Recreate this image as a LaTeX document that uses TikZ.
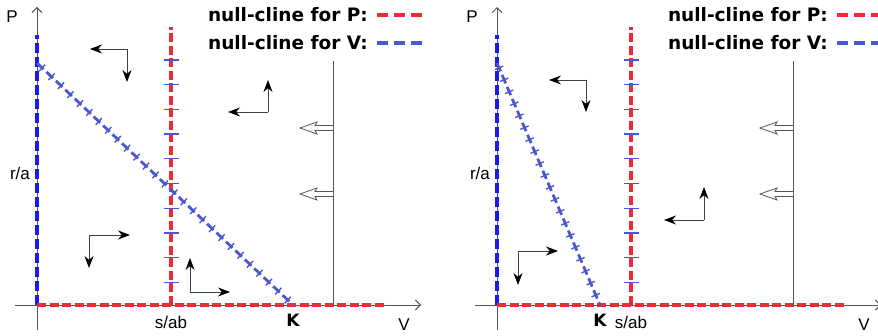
\documentclass[tikz,border=0pt]{standalone}
\usepackage{fontspec}
\setmainfont{Liberation Sans}
\newfontfamily\legendfont{DejaVu Sans}
\usetikzlibrary{arrows.meta, decorations.markings, positioning}

\definecolor{ncred}{HTML}{EE2A35}
\definecolor{ncblue}{HTML}{1A1AF0}
\definecolor{diagblue}{HTML}{4A58D0}
\definecolor{axisgray}{HTML}{555555}

\tikzset{
  axis/.style={axisgray, line width=0.9pt, -{Straight Barb[length=5pt,width=10pt]}},
  pcline/.style={ncred, line width=3.6pt, dash pattern=on 9pt off 3.5pt},
  vcline/.style={ncblue, line width=3.2pt, dash pattern=on 10pt off 4pt},
  vdiag/.style={diagblue, line width=2.8pt, dash pattern=on 9pt off 4pt,
    postaction={decorate, decoration={markings,
      mark=between positions 0.02 and 1 step 13pt with
        {\draw[diagblue, solid, line width=1.4pt] (0pt,-4.5pt) -- (0pt,4.5pt);}}}},
  ptick/.style={diagblue, line width=1.3pt},
  dirarrow/.style={black!75, line width=0.9pt, -{Stealth[length=12pt,width=9pt,black]}},
  openarrow/.style={axisgray, line width=0.8pt, fill=white},
  lbl/.style={font=\fontsize{17}{20}\selectfont},
  klbl/.style={font=\legendfont\bfseries\fontsize{17}{20}\selectfont},
  legend/.style={font=\legendfont\bfseries\fontsize{18.5}{22}\selectfont, anchor=east, inner sep=0pt}
}

\begin{document}
\begin{tikzpicture}[x=1pt, y=-1pt]
\useasboundingbox (0,0) rectangle (878,336);

\foreach \dx/\kx/\n in {0/256/L, 460/103/R} {
  \begin{scope}[xshift=\dx pt]
    % axes
    \coordinate (o\n) at (37,305);
    \coordinate (ytop\n) at (37,7);
    \coordinate (xend\n) at (421,305);
    \draw[axis] (37,330) -- (ytop\n);
    \draw[axis] (15,305) -- (xend\n);
    \node[lbl] (P\n) at (12,17) {P};
    \node[lbl] (ra\n) at (20,173) {r/a};
    \node[lbl] (sab\n) at (171,322) {s/ab};
    \node[lbl] (V\n) at (404,325) {V};
    \node[klbl] (K\n) at ({37+\kx},320) {K};

    % null-clines
    \coordinate (vtop\n) at (37,35);
    \coordinate (ptop\n) at (171,27);
    \coordinate (pbot\n) at (171,305);
    \coordinate (pend\n) at (387,305);
    \coordinate (diag\n) at (37,63);
    \coordinate (kpt\n) at ({37+\kx},305);
    \draw[vcline] (o\n) -- (vtop\n);
    \draw[pcline] (o\n) -- (pend\n);
    \draw[pcline] (pbot\n) -- (ptop\n);
    \foreach \k in {0,...,9}
      \draw[ptick] (164,{60+24.7*\k}) -- ++(15,0);
    \draw[vdiag] (diag\n) -- (kpt\n);

    % far line with open arrows
    \coordinate (gtop\n) at (333,61);
    \coordinate (gbot\n) at (333,305);
    \draw[axisgray, line width=0.9pt] (gtop\n) -- (gbot\n);
    \foreach \yy in {128,194}
      \draw[openarrow] (333,\yy-2.5) -- (315,\yy-2.5) -- (317,\yy-6)
        -- (300,\yy) -- (317,\yy+6) -- (315,\yy+2.5) -- (333,\yy+2.5);

    % legend
    \node[legend] (legP\n) at (368,15) {null-cline for P:};
    \node[legend] (legV\n) at (368,43) {null-cline for V:};
    \draw[ncred, line width=3.2pt, dash pattern=on 11pt off 6pt]
      ([xshift=9pt]legP\n.east) -- ++(48,0);
    \draw[diagblue, line width=3.2pt, dash pattern=on 11pt off 6pt]
      ([xshift=9pt]legV\n.east) -- ++(48,0);
  \end{scope}
}

% direction arrows, left
\coordinate (a1) at (127,49);
\draw[dirarrow] (a1) -- ++(-37,0);
\draw[dirarrow] (a1) -- ++(0,33);
\coordinate (a2) at (268,112);
\draw[dirarrow] (a2) -- ++(0,-32);
\draw[dirarrow] (a2) -- ++(-40,0);
\coordinate (a3) at (89,235);
\draw[dirarrow] (a3) -- ++(41,0);
\draw[dirarrow] (a3) -- ++(0,33);
\coordinate (a4) at (190,292);
\draw[dirarrow] (a4) -- ++(0,-34);
\draw[dirarrow] (a4) -- ++(40,0);

% direction arrows, right
\coordinate (b1) at (586,80);
\draw[dirarrow] (b1) -- ++(-37,0);
\draw[dirarrow] (b1) -- ++(0,32);
\coordinate (b2) at (704,220);
\draw[dirarrow] (b2) -- ++(0,-33);
\draw[dirarrow] (b2) -- ++(-40,0);
\coordinate (b3) at (518,251);
\draw[dirarrow] (b3) -- ++(40,0);
\draw[dirarrow] (b3) -- ++(0,34);
\end{tikzpicture}
\end{document}
